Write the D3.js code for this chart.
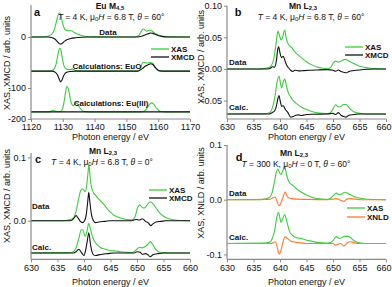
<!DOCTYPE html>
<html><head><meta charset="utf-8">
<script src="https://cdn.jsdelivr.net/npm/d3@7"></script>
<style>body{margin:0;background:#fff}svg{display:block}</style>
</head><body>
<svg id="c" width="392" height="287"></svg>
<script>
// ---------- DATA ----------
// Panel a: Eu M4,5
const aTicksX = [1120, 1130, 1140, 1150, 1160, 1170];
const aTicksY = [0, -100, -200];
const aDataXAS = [[1120,0],[1124,0.5],[1125.5,2],[1126.5,5],[1127.2,12],[1127.8,25],[1128.4,40],[1128.9,47],[1129.4,42],[1129.9,28],[1130.4,18],[1131,13],[1131.8,12],[1132.7,12],[1133.5,9],[1134.5,6],[1135.5,4],[1136.5,2],[1137.5,1],[1139,0.3],[1145,0],[1152,0],[1153.2,0.8],[1153.9,3],[1154.6,10],[1155.3,15.5],[1155.8,14],[1156.3,11],[1156.9,12.5],[1157.3,13],[1157.9,12],[1158.6,9],[1159.4,6],[1160.3,3.5],[1161.2,2],[1162.5,0.8],[1164,0.2],[1170,0]];
const aDataXMCD = [[1120,0],[1125.5,0],[1126.5,-1],[1127.5,-4],[1128.3,-9],[1128.9,-13],[1129.4,-14],[1129.9,-12],[1130.6,-8],[1131.5,-5],[1132.5,-3],[1134,-1.5],[1136,-0.5],[1138,0],[1153,0],[1154,0.5],[1155,2],[1156,4.5],[1157,6.5],[1157.6,7.8],[1158.3,7],[1159.2,5],[1160.2,2.5],[1161.4,0.8],[1163,0],[1170,0]];
const aEuOXAS = [[1120,-67],[1125.5,-67],[1126.5,-66],[1127.2,-63],[1127.8,-55],[1128.3,-40],[1128.7,-27],[1129,-22],[1129.4,-26],[1129.8,-40],[1130.3,-55],[1130.8,-61],[1131.5,-63.5],[1132.3,-64],[1133,-63],[1133.8,-65],[1135,-66.5],[1137,-67],[1153,-67],[1153.9,-66],[1154.5,-60],[1155.2,-50],[1155.8,-50.5],[1156.5,-51],[1157.5,-50],[1158.3,-52],[1158.8,-57],[1159.4,-63],[1160,-66],[1161,-67],[1170,-67]];
const aEuOXMCD = [[1120,-67],[1126.5,-67],[1127.5,-68.5],[1128.3,-74],[1128.9,-83],[1129.3,-88],[1129.7,-85],[1130.2,-77],[1130.8,-71],[1131.5,-68.5],[1132.5,-67.5],[1134,-67],[1153,-67],[1154,-66],[1155,-62],[1156,-57],[1157,-54],[1157.6,-52.5],[1158.3,-54],[1159,-59],[1159.8,-64],[1160.6,-66.5],[1162,-67],[1170,-67]];
const aEu3XAS = [[1120,-177],[1125.5,-177],[1126.3,-175],[1127,-172],[1127.7,-175],[1128.5,-176.5],[1129.3,-176],[1129.9,-168],[1130.4,-145],[1130.8,-118],[1131.3,-97],[1131.8,-105],[1132.3,-132],[1132.8,-152],[1133.3,-157],[1133.8,-152],[1134.2,-148],[1134.7,-152],[1135.3,-163],[1136,-172],[1137,-176],[1138,-177],[1154.5,-177],[1155.5,-175],[1156.3,-168],[1157,-157],[1157.9,-148],[1158.6,-152],[1159.3,-163],[1160,-171],[1160.8,-176],[1162,-177],[1170,-177]];
const aEu3XMCD = [[1120,-177],[1145,-177],[1170,-177]];

// Panel b: Mn L2,3, T=4K, 6.8T, 60°
const mnTicksX = [630, 635, 640, 645, 650, 655, 660];
const bTicksY = [0.10, 0.05, 0.00, -0.05];
const bDataXAS = [[630,0],[636,0],[637,0.0008],[637.8,0.002],[638.4,0.006],[638.8,0.015],[639.1,0.03],[639.4,0.05],[639.6,0.06],[639.9,0.053],[640.2,0.046],[640.5,0.05],[640.7,0.058],[640.9,0.0615],[641.1,0.052],[641.4,0.042],[641.8,0.037],[642.2,0.034],[642.7,0.028],[643.2,0.024],[644,0.018],[645,0.0115],[646,0.0065],[647,0.003],[648,0.0012],[649,0.0005],[649.6,0.003],[650.1,0.01],[650.5,0.0125],[650.9,0.011],[651.3,0.0115],[651.8,0.014],[652.3,0.0152],[652.9,0.013],[653.6,0.01],[654.3,0.007],[655,0.0045],[656,0.0025],[657,0.0012],[658.5,0.0004],[660,0]];
const bDataXMCD = [[630,0],[637,0],[638,0.0005],[638.6,0.0035],[639,0.003],[639.3,0.012],[639.6,0.032],[639.75,0.035],[640,0.025],[640.3,0.018],[640.6,0.02],[640.9,0.014],[641.2,0.007],[641.6,0.002],[642,-0.002],[642.4,-0.004],[642.8,-0.002],[643.5,-0.003],[644.5,-0.0025],[645.5,-0.002],[647,-0.0015],[649,-0.001],[650,-0.002],[650.5,-0.0035],[651,-0.0015],[651.5,-0.004],[652,-0.005],[652.5,-0.006],[653,-0.004],[654,-0.0025],[655,-0.0015],[656.5,-0.0005],[658,0],[660,0]];
const bCalcXAS = [[630,-0.071],[637,-0.0705],[638,-0.069],[638.5,-0.063],[639,-0.046],[639.4,-0.023],[639.8,-0.011],[640.1,-0.023],[640.3,-0.030],[640.6,-0.021],[640.9,-0.016],[641.2,-0.026],[641.5,-0.036],[642,-0.044],[642.5,-0.050],[643,-0.054],[644,-0.060],[645,-0.064],[646,-0.067],[647,-0.069],[648,-0.070],[649,-0.0705],[649.6,-0.068],[650,-0.063],[650.5,-0.0565],[651,-0.060],[651.5,-0.059],[652,-0.056],[652.5,-0.056],[653,-0.061],[653.5,-0.065],[654,-0.068],[655,-0.070],[656,-0.071],[660,-0.071]];
const bCalcXMCD = [[630,-0.071],[638,-0.071],[638.5,-0.069],[639,-0.066],[639.3,-0.059],[639.6,-0.047],[639.8,-0.042],[640.1,-0.053],[640.3,-0.059],[640.6,-0.058],[641,-0.064],[641.5,-0.069],[642,-0.076],[642.5,-0.075],[643,-0.073],[643.5,-0.0725],[644,-0.0735],[645,-0.072],[646,-0.0715],[649,-0.071],[650,-0.070],[650.5,-0.072],[651,-0.069],[651.5,-0.073],[652,-0.075],[652.5,-0.076],[653,-0.073],[654,-0.072],[655,-0.071],[660,-0.071]];

// Panel c: Mn L2,3, T=4K, 6.8T, 0°
const cTicksY = [0.1, 0.0];
const cDataXAS = [[630,0],[636,0],[637,0.001],[638,0.004],[638.5,0.015],[639,0.035],[639.4,0.048],[639.8,0.05],[640.2,0.046],[640.5,0.055],[640.75,0.075],[640.9,0.088],[641.1,0.075],[641.3,0.058],[641.7,0.046],[642.2,0.04],[642.8,0.034],[643.5,0.028],[644.3,0.02],[645,0.013],[646,0.007],[647,0.004],[648,0.002],[649,0.0015],[649.6,0.006],[650.1,0.02],[650.5,0.025],[651,0.021],[651.4,0.02],[652,0.026],[652.5,0.03],[653,0.027],[653.6,0.02],[654.2,0.013],[655,0.007],[656,0.003],[657,0.0012],[658.5,0.0003],[660,0]];
const cDataXMCD = [[630,0],[637.5,0],[638.1,0.004],[638.5,0.008],[638.9,0.004],[639.3,-0.001],[639.7,-0.003],[640.1,0.0],[640.4,0.008],[640.7,0.03],[640.9,0.045],[641.1,0.03],[641.4,0.01],[641.8,0.0],[642.2,-0.003],[642.8,-0.002],[644,-0.001],[645,0],[649,0],[649.8,0.002],[650.4,0.001],[651,0.003],[651.6,-0.001],[652.2,-0.004],[652.6,-0.008],[653,-0.005],[653.6,-0.002],[654.5,-0.001],[655.5,0],[660,0]];
const cCalcXAS = [[630,-0.051],[637,-0.0505],[638,-0.049],[638.5,-0.043],[639,-0.029],[639.5,-0.014],[639.8,-0.015],[640.2,-0.025],[640.5,-0.019],[640.9,-0.004],[641.2,-0.013],[641.6,-0.025],[642,-0.033],[642.5,-0.038],[643,-0.042],[644,-0.045],[645,-0.047],[646,-0.048],[647,-0.049],[648,-0.050],[649,-0.0502],[649.6,-0.048],[650,-0.045],[650.5,-0.042],[651,-0.043],[651.5,-0.041],[652,-0.038],[652.5,-0.033],[653,-0.038],[653.5,-0.045],[654,-0.049],[655,-0.0505],[656,-0.051],[660,-0.051]];
const cCalcXMCD = [[630,-0.051],[638,-0.051],[638.5,-0.049],[639,-0.045],[639.5,-0.050],[640,-0.055],[640.3,-0.047],[640.6,-0.033],[640.9,-0.019],[641.2,-0.036],[641.5,-0.049],[641.8,-0.054],[642.2,-0.055],[642.8,-0.054],[643.5,-0.053],[644.5,-0.052],[645.5,-0.051],[649.5,-0.051],[650,-0.049],[650.6,-0.050],[651,-0.053],[651.6,-0.052],[652.1,-0.054],[652.5,-0.057],[653,-0.054],[654,-0.052],[655,-0.051],[660,-0.051]];

// Panel d: Mn L2,3, T=300K, 0T, 60°
const dTicksY = [0.1, 0.0, -0.1];
const dDataXAS = [[630,0],[636,0],[637,0.001],[638,0.004],[638.5,0.013],[639,0.035],[639.3,0.05],[639.6,0.056],[639.9,0.05],[640.2,0.046],[640.5,0.052],[640.9,0.061],[641.1,0.052],[641.4,0.04],[641.8,0.031],[642.3,0.027],[643,0.021],[644,0.014],[645,0.0085],[646,0.0045],[647,0.0022],[648,0.001],[649,0.0005],[649.6,0.003],[650.1,0.008],[650.6,0.012],[651.2,0.009],[651.7,0.011],[652.2,0.0135],[652.7,0.012],[653.3,0.009],[654,0.0055],[655,0.003],[656,0.0013],[657.5,0.0003],[660,0]];
const dDataXNLD = [[630,0],[638,0.0005],[638.6,0.003],[639.1,0.005],[639.4,-0.002],[639.8,-0.011],[640.1,-0.008],[640.4,0.0],[640.7,0.008],[641,0.0145],[641.3,0.007],[641.7,0.003],[642.2,0.002],[643,0.001],[645,0.0005],[649,0],[650,0.001],[650.6,0.002],[651.2,0.0],[651.7,-0.002],[652.1,-0.003],[652.6,0.001],[653.2,0.002],[654.2,0.001],[655.5,0],[660,0]];
const dCalcXAS = [[630,-0.08],[637,-0.0795],[638,-0.078],[638.5,-0.072],[639,-0.055],[639.4,-0.032],[639.7,-0.023],[640,-0.034],[640.2,-0.0415],[640.5,-0.035],[640.9,-0.027],[641.2,-0.037],[641.5,-0.048],[641.8,-0.058],[642.3,-0.065],[643,-0.069],[644,-0.071],[645,-0.074],[646,-0.076],[647,-0.078],[648,-0.079],[649,-0.0795],[649.6,-0.078],[650,-0.075],[650.6,-0.0675],[651.2,-0.071],[651.7,-0.069],[652.2,-0.067],[652.8,-0.067],[653.3,-0.069],[653.8,-0.074],[654.3,-0.077],[655,-0.079],[656,-0.08],[660,-0.08]];
const dCalcXNLD = [[630,-0.08],[638,-0.08],[638.7,-0.079],[639.1,-0.077],[639.4,-0.084],[639.7,-0.096],[639.9,-0.0995],[640.2,-0.092],[640.5,-0.08],[640.8,-0.07],[641,-0.068],[641.4,-0.071],[641.9,-0.075],[642.5,-0.077],[643,-0.078],[644,-0.079],[645,-0.08],[649.5,-0.08],[650,-0.08],[650.5,-0.083],[651,-0.081],[651.5,-0.08],[652,-0.085],[652.4,-0.082],[652.8,-0.078],[653.3,-0.077],[654,-0.079],[655,-0.08],[660,-0.08]];

// ---------- DRAW ----------
const FONT = "'Liberation Sans', Arial, Helvetica, sans-serif";
const GREEN = "#3ccc3c", BLACK = "#111", ORANGE = "#ff7a2e", AXIS = "#8a8a8a";
const svg = d3.select("#c").style("font-family", FONT);
const minus = s => s.replace(/\u2212/g, "-");

function subText(g, x, y, parts, opts) {
  const t = g.append("text").attr("x", x).attr("y", y)
    .attr("text-anchor", opts.anchor || "middle")
    .attr("dominant-baseline", "central")
    .attr("font-size", opts.size).attr("font-weight", opts.weight || "normal").attr("fill", "#111");
  parts.forEach(p => {
    const ts = t.append("tspan").text(p.t);
    if (p.i) ts.attr("font-style", "italic");
    if (p.sub) ts.attr("font-size", opts.size * 0.7).attr("dy", 2);
    if (p.up) ts.attr("dy", -2);
  });
  return t;
}

function panel(p) {
  const g = svg.append("g");
  const x = d3.scaleLinear().domain(p.xDom).range([p.left, p.right]);
  const y = d3.scaleLinear().domain(p.yDom).range(p.yRange);
  const line = d3.line().x(d => x(d[0])).y(d => y(d[1])).curve(d3.curveMonotoneX);
  p.curves.forEach(c => {
    g.append("path").datum(c.data).attr("d", line)
      .attr("fill", "none").attr("stroke", c.color).attr("stroke-width", 1.1).attr("stroke-linejoin", "round");
  });
  const bottom = p.yRange[0];
  const xa = g.append("g").attr("transform", `translate(0,${bottom})`)
    .call(d3.axisBottom(x).tickValues(p.xTicks).tickSize(3).tickPadding(2).tickFormat(d3.format("d")));
  const ya = g.append("g").attr("transform", `translate(${p.left},0)`)
    .call(d3.axisLeft(y).tickValues(p.yTicks).tickSize(3).tickPadding(2).tickFormat(d => minus(p.yFmt(d))));
  [xa, ya].forEach(a => {
    a.select(".domain").attr("stroke", AXIS).attr("stroke-width", 1.2);
    a.selectAll(".tick line").attr("stroke", AXIS);
    a.selectAll(".tick text").attr("font-size", 9).attr("fill", "#111").attr("font-family", FONT);
  });
  // keep the last x tick label inside the picture
  xa.selectAll(".tick text").filter((d, i, n) => i === n.length - 1 && p.right > 380).attr("dx", -2.5);
  xa.select(".domain").attr("d", `M${p.left},0H${p.right}`);
  ya.select(".domain").attr("d", `M0,${d3.max(p.yRange)}V${p.yTop}`);
  // axis titles
  g.append("text").attr("x", (p.left + p.right) / 2).attr("y", p.xTitleY)
    .attr("text-anchor", "middle").attr("dominant-baseline", "central").attr("font-size", 9).attr("fill", "#111")
    .text("Photon energy / eV");
  g.append("text").attr("transform", `translate(${p.yTitleX},${p.yTitleY}) rotate(-90)`)
    .attr("text-anchor", "middle").attr("dominant-baseline", "central").attr("font-size", 9).attr("fill", "#111")
    .text(p.yTitle);
  // panel letter
  g.append("text").attr("x", p.letter[1]).attr("y", p.letter[2]).attr("text-anchor", "middle")
    .attr("dominant-baseline", "central").attr("font-size", 11).attr("font-weight", "bold").attr("fill", "#111")
    .text(p.letter[0]);
  // titles
  subText(g, p.title[1], p.title[2], p.title[0], {size: 8.5, weight: "bold"});
  subText(g, p.sub[1], p.sub[2], p.sub[0], {size: 8.5});
  // curve labels
  p.labels.forEach(l => {
    g.append("text").attr("x", l[1]).attr("y", l[2]).attr("text-anchor", l[3])
      .attr("dominant-baseline", "central").attr("font-size", 8).attr("font-weight", "bold").attr("fill", "#111")
      .text(l[0]);
  });
  // legend
  p.legend.items.forEach((it, i) => {
    const ly = p.legend.y + i * p.legend.dy;
    g.append("line").attr("x1", p.legend.x).attr("x2", p.legend.x + 18).attr("y1", ly).attr("y2", ly)
      .attr("stroke", it[1]).attr("stroke-width", 1.3);
    g.append("text").attr("x", p.legend.x + 20).attr("y", ly).attr("dominant-baseline", "central")
      .attr("font-size", 8).attr("font-weight", "bold").attr("fill", "#111").text(it[0]);
  });
}

const mnTitle = [{t: "Mn L"}, {t: "2,3", sub: true}];
function cond(T, H, th) {
  return [{t: "T", i: true}, {t: " = " + T + " K, \u03bc"}, {t: "0", sub: true}, {t: "H", i: true, up: true},
          {t: " = " + H + " T, "}, {t: "\u03b8", i: true}, {t: " = " + th + "\u00b0"}];
}

panel({
  left: 31, right: 190, xDom: [1120, 1170], xTicks: aTicksX,
  yDom: [-200, -100, 0, 62], yRange: [119, 88, 37, 5], yTop: 5, yTicks: aTicksY, yFmt: d3.format("d"),
  xTitleY: 137, yTitleX: 7, yTitleY: 63, yTitle: "XAS, XMCD / arb. units",
  letter: ["a", 37, 12],
  title: [[{t: "Eu M"}, {t: "4,5", sub: true}], 110, 6],
  sub: [cond("4", "6.8", "60"), 111, 17],
  labels: [["Data", 108, 32, "middle"], ["Calculations: EuO", 107, 66, "middle"], ["Calculations: Eu(III)", 111, 103, "middle"]],
  legend: {x: 151, y: 49, dy: 8, items: [["XAS", GREEN], ["XMCD", BLACK]]},
  curves: [{data: aDataXAS, color: GREEN}, {data: aDataXMCD, color: BLACK},
           {data: aEuOXAS, color: GREEN}, {data: aEuOXMCD, color: BLACK},
           {data: aEu3XAS, color: GREEN}, {data: aEu3XMCD, color: BLACK}]
});

panel({
  left: 227, right: 386, xDom: [630, 660], xTicks: mnTicksX,
  yDom: [-0.079, 0.10], yRange: [119, 5.7], yTop: 5.7, yTicks: bTicksY, yFmt: d3.format(".2f"),
  xTitleY: 137, yTitleX: 201, yTitleY: 57, yTitle: "XAS, XMCD / arb. units",
  letter: ["b", 238, 12],
  title: [mnTitle, 303, 6],
  sub: [cond("4", "6.8", "60"), 311, 17],
  labels: [["Data", 229, 62, "start"], ["Calc.", 229, 107, "start"]],
  legend: {x: 345, y: 47, dy: 8, items: [["XAS", GREEN], ["XMCD", BLACK]]},
  curves: [{data: bDataXAS, color: GREEN}, {data: bDataXMCD, color: BLACK},
           {data: bCalcXAS, color: GREEN}, {data: bCalcXMCD, color: BLACK}]
});

panel({
  left: 31, right: 190, xDom: [630, 660], xTicks: mnTicksX,
  yDom: [-0.061, 0.107], yRange: [259.3, 153], yTop: 153, yTicks: cTicksY, yFmt: d3.format(".1f"),
  xTitleY: 282, yTitleX: 7, yTitleY: 196, yTitle: "XAS, XMCD / arb. units",
  letter: ["c", 38, 159],
  title: [mnTitle, 103, 151],
  sub: [cond("4", "6.8", "0"), 102, 162],
  labels: [["Data", 32, 206, "start"], ["Calc.", 32, 247, "start"]],
  legend: {x: 149, y: 190, dy: 8, items: [["XAS", GREEN], ["XMCD", BLACK]]},
  curves: [{data: cDataXAS, color: GREEN}, {data: cDataXMCD, color: BLACK},
           {data: cCalcXAS, color: GREEN}, {data: cCalcXMCD, color: BLACK}]
});

panel({
  left: 227, right: 386, xDom: [630, 660], xTicks: mnTicksX,
  yDom: [-0.109, 0.1], yRange: [259.3, 145], yTop: 145, yTicks: dTicksY, yFmt: d3.format(".1f"),
  xTitleY: 282, yTitleX: 201, yTitleY: 193, yTitle: "XAS, XNLD / arb. units",
  letter: ["d", 239, 157],
  title: [mnTitle, 294, 153],
  sub: [cond("300", "0", "60"), 296, 164],
  labels: [["Data", 229, 193, "start"], ["Calc.", 229, 237, "start"]],
  legend: {x: 347, y: 208, dy: 9, items: [["XAS", GREEN], ["XNLD", ORANGE]]},
  curves: [{data: dDataXAS, color: GREEN}, {data: dDataXNLD, color: ORANGE},
           {data: dCalcXAS, color: GREEN}, {data: dCalcXNLD, color: ORANGE}]
});
</script>
</body></html>
